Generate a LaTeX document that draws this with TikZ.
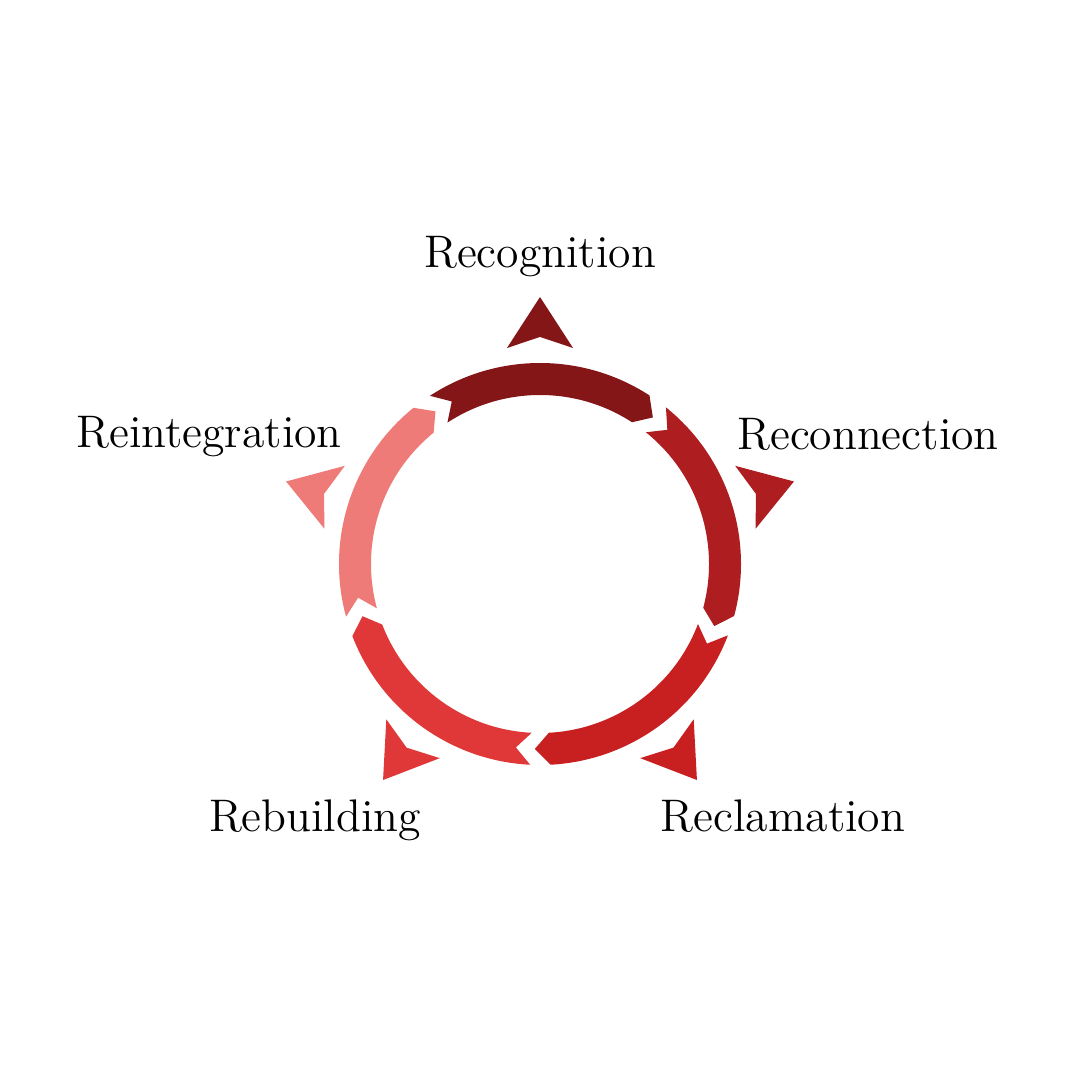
\documentclass[tikz,border=0pt]{standalone}
\usepackage{xcolor}
\usetikzlibrary{positioning}

\definecolor{stepone}{HTML}{851618}
\definecolor{steptwo}{HTML}{AE1D1F}
\definecolor{stepthree}{HTML}{C81F20}
\definecolor{stepfour}{HTML}{E03838}
\definecolor{stepfive}{HTML}{EE7B78}

\tikzset{
  steplabel/.style={anchor=base, font=\fontsize{13}{15}\selectfont, text=black}
}

\begin{document}
\begin{tikzpicture}
	\useasboundingbox (-5.4,-5.16) rectangle (5.4,5.64);
	% arc segments and outer arrow heads
	\foreach \a/\c in {90/stepone, 18/steptwo, -54/stepthree, -126/stepfour, -198/stepfive} {
		\fill[\c] (\a+33.2:2.01) arc[start angle=\a+33.2, end angle=\a-33, radius=2.01]
			-- (\a-37.6:1.85) -- (\a-33:1.69)
			arc[start angle=\a-33, end angle=\a+33.2, radius=1.69]
			-- (\a+28.5:1.85) -- cycle;
		\fill[\c] (\a:2.67) -- (\a-8.7:2.185) -- (\a:2.27) -- (\a+8.7:2.185) -- cycle;
	}
	% labels
	\node[steplabel] (recog) at (0,2.96) {Recognition};
	\node[steplabel] (reconn) at (3.28,1.14) {Reconnection};
	\node[steplabel] (reclaim) at (2.43,-2.68) {Reclamation};
	\node[steplabel] (rebuild) at (-2.25,-2.68) {Rebuilding};
	\node[steplabel] (reint) at (-3.31,1.16) {Reintegration};
\end{tikzpicture}
\end{document}
